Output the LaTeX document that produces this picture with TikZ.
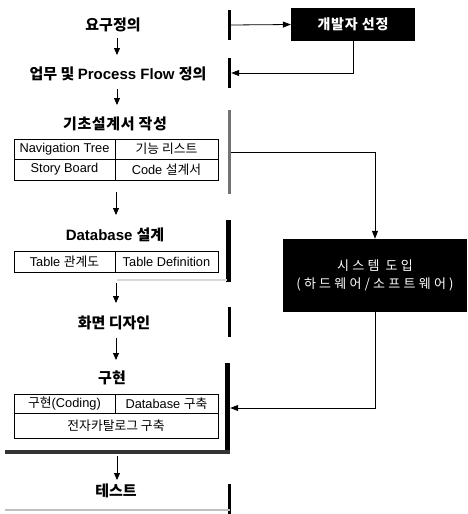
\documentclass[tikz,border=0pt]{standalone}
\usepackage{fontspec}
\setmainfont{Liberation Sans}
\newfontfamily\kr{Noto Sans CJK KR}
\newfontfamily\krsp[LetterSpace=25]{Noto Sans CJK KR}
\newfontfamily\krdev[LetterSpace=6]{Noto Sans CJK KR}
\newfontfamily\krtitle[LetterSpace=4]{Noto Sans CJK KR}
\usetikzlibrary{arrows.meta}
\begin{document}
\begin{tikzpicture}[x=1pt,y=-1pt,
  title/.style={font=\bfseries\fontsize{15}{17}\selectfont, inner sep=0pt},
  cell/.style={draw, line width=0.8pt, inner sep=0pt, font=\fontsize{12.8}{14}\selectfont},
  flow/.style={line width=0.9pt, -{Triangle[length=7pt,width=6pt]}},
  link/.style={line width=0.8pt, -{Triangle[length=8pt,width=6pt]}},
  bar/.style={fill=black, inner sep=0pt, minimum width=3pt},
  thickbar/.style={fill=black, inner sep=0pt, minimum width=5pt},
  blackbox/.style={fill=black, text=white, inner sep=0pt}]
\useasboundingbox (0,0) rectangle (467,514);

% titles
\node[title] (t1) at (113,25) {\kr\bfseries 요구정의};
\node[title] (t2) at (118,74) {\kr\bfseries 업무 및 \rmfamily\bfseries Process Flow \kr\bfseries 정의};
\node[title] (t3) at (115,124) {\krtitle\bfseries 기초설계서 작성};
\node[title] (t4) at (115,235) {Database \kr\bfseries 설계};
\node[title] (t5) at (114,323) {\kr\bfseries 화면 디자인};
\node[title] (t6) at (112,378) {\kr\bfseries 구현};
\node[title] (t7) at (116,491) {\kr\bfseries 테스트};

% table 1
\node[cell, minimum width=101pt, minimum height=20pt] (c11) at (64.5,149) {Navigation Tree};
\node[cell, minimum width=103pt, minimum height=20pt] (c12) at (166.5,149) {\kr 기능 리스트};
\node[cell, minimum width=101pt, minimum height=21pt] (c21) at (64.5,169.5) {Story Board};
\node[cell, minimum width=103pt, minimum height=21pt] (c22) at (166.5,169.5) {Code {\kr 설계서}};

% table 2
\node[cell, minimum width=101pt, minimum height=21pt] (d1) at (64.5,261.5) {Table {\kr 관계도}};
\node[cell, minimum width=103pt, minimum height=21pt] (d2) at (166.5,261.5) {Table Definition};

% table 3
\node[cell, minimum width=101pt, minimum height=19pt] (e1) at (64.5,403.5) {{\kr 구현}(Coding)};
\node[cell, minimum width=103pt, minimum height=19pt] (e2) at (166.5,403.5) {Database {\kr 구축}};
\node[cell, minimum width=204pt, minimum height=25pt] (e3) at (116,425.5) {\kr 전자카탈로그 구축};

% right bars
\node[bar, minimum height=30pt] (b1) at (229.5,25) {};
\node[bar, minimum height=30pt] (b2) at (229.5,73) {};
\node[bar, fill=black!55, minimum width=2.5pt, minimum height=84pt] (b3) at (229.5,152) {};
\node[thickbar, minimum height=62pt] (b4) at (228,251) {};
\node[bar, minimum height=30pt] (b5) at (229.5,322) {};
\node[thickbar, minimum height=90pt] (b6) at (227.5,408) {};
\node[bar, minimum height=30pt] (b7) at (229.5,499) {};

% bottom shadows
\node[fill=black!80, inner sep=0pt, minimum width=225pt, minimum height=4pt] (s6) at (117.5,452) {};
\node[fill=black!15, inner sep=0pt, minimum width=110pt, minimum height=1.2pt] (s4) at (172,280) {};
\node[fill=black!25, inner sep=0pt, minimum width=225pt, minimum height=1.2pt] (s7) at (117.5,510) {};

% black boxes
\node[blackbox, minimum width=124pt, minimum height=33pt, font=\krdev\bfseries\fontsize{14}{16}\selectfont] (dev) at (353,24.5) {개발자 선정};
\node[blackbox, minimum width=184pt, minimum height=73pt, align=center, font=\krsp\fontsize{13}{18}\selectfont] (sys) at (375,275.5) {시스템 도입\\(하드웨어/소프트웨어)};

% flow arrows
\coordinate (a1s) at (117,38); \coordinate (a1e) at (117,55);
\coordinate (a2s) at (117,89); \coordinate (a2e) at (117,105);
\coordinate (a3s) at (116,192); \coordinate (a3e) at (116,215);
\coordinate (a4s) at (116,283); \coordinate (a4e) at (116,303);
\coordinate (a5s) at (116,338); \coordinate (a5e) at (116,360);
\coordinate (a6s) at (117,456); \coordinate (a6e) at (117,480);
\draw[flow] (a1s) -- (a1e);
\draw[flow] (a2s) -- (a2e);
\draw[flow] (a3s) -- (a3e);
\draw[flow] (a4s) -- (a4e);
\draw[flow] (a5s) -- (a5e);
\draw[flow] (a6s) -- (a6e);

% links
\draw[link] (b1.east) -- (dev.west);
\draw[link] (dev.south) |- (b2.east);
\draw[link] (b3.east) -| (sys.north);
\draw[link] (sys.south) |- (b6.east);
\end{tikzpicture}
\end{document}
